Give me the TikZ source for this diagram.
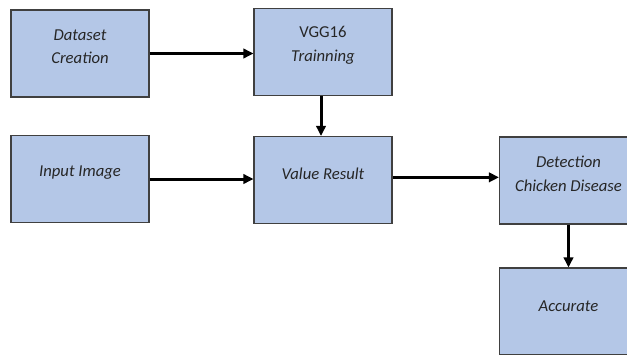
\documentclass[tikz,border=0pt]{standalone}
\usepackage{fontspec}
\setmainfont{Carlito}
\usetikzlibrary{arrows.meta}
\definecolor{boxBlue}{RGB}{180,199,231}
\definecolor{boxEdge}{RGB}{64,64,64}

\begin{document}
\begin{tikzpicture}[x=0.75pt, y=-0.75pt,
  box/.style={draw=boxEdge, fill=boxBlue, line width=0.8pt, minimum width=103.5pt, minimum height=65.25pt, inner sep=0pt},
  txt/.style={align=center, font=\fontsize{12.5}{17.5}\selectfont\itshape, text=black!85, inner sep=0pt},
  flow/.style={line width=2.25pt, -{Triangle[length=7.5pt, width=7pt]}}]
\clip (0,0) rectangle (627,354);
\node[box, label={[txt, yshift=5pt]center:{Dataset\\Creation}}] (data) at (80,53.5) {};
\node[box, label={[txt, yshift=5pt]center:{{\upshape VGG16}\\Trainning}}] (vgg) at (323,52) {};
\node[box, label={[txt, yshift=5pt]center:Input Image}] (input) at (80,179) {};
\node[box, label={[txt, yshift=5pt]center:Value Result}] (value) at (323,180) {};
\node[box, label={[txt, yshift=5pt]center:{Detection\\Chicken Disease}}] (detect) at (568.5,180.5) {};
\node[box, label={[txt, yshift=4pt]center:Accurate}] (accurate) at (568.5,311.5) {};
\draw[flow] (data.east) -- (data.east -| vgg.west);
\draw[flow] ([xshift=-1.5pt]vgg.south) -- ([xshift=-1.5pt]value.north);
\draw[flow] (input.east) -- (input.east -| value.west);
\draw[flow] ([yshift=2pt]value.east) -- ([yshift=2pt]value.east -| detect.west);
\draw[flow] (detect.south) -- (accurate.north);
\end{tikzpicture}
\end{document}
